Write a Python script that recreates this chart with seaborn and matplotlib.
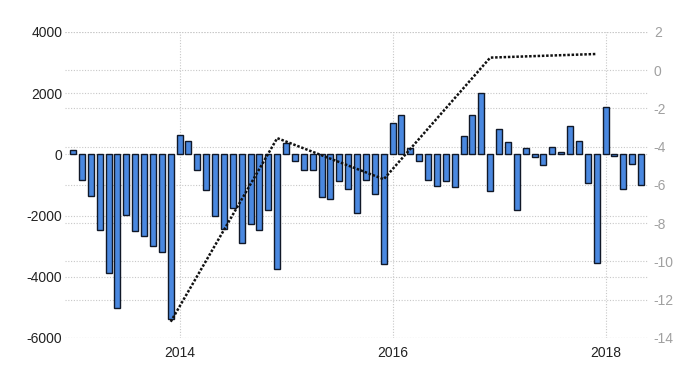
import pandas as pd
import matplotlib
matplotlib.use('Agg')
import matplotlib.pyplot as plt
import matplotlib.transforms as mtransforms
import seaborn as sns

# monthly bars, Jan 2013 - May 2018
months = [d.strftime('%Y-%m') for d in pd.date_range('2013-01-01', periods=65, freq='MS')]
balance = [150, -830, -1370, -2480, -3870, -5010, -1970, -2510, -2680, -2980, -3180, -5390,
           620, 450, -500, -1170, -2000, -2430, -1750, -2890, -2290, -2460, -1830, -3730,
           370, -230, -520, -520, -1400, -1460, -860, -1120, -1920, -830, -1280, -3570,
           1040, 1290, 210, -200, -830, -1040, -870, -1080, 590, 1290, 2000, -1210,
           830, 400, -1830, 210, -100, -360, 240, 80, 930, 450, -950, -3540,
           1540, -40, -1120, -320, -990]

# yearly series on the right axis (December of each year)
annual_months = ['2013-12', '2014-12', '2015-12', '2016-12', '2017-12']
annual_values = [-13.15, -3.55, -5.7, 0.66, 0.85]

year_ticks = ['2014-01', '2016-01', '2018-01']
year_labels = ['2014', '2016', '2018']
left_ticks = [4000, 2000, 0, -2000, -4000, -6000]
right_ticks = [2, 0, -2, -4, -6, -8, -10, -12, -14]

sns.set_style('white')
plt.rcParams['font.family'] = ['Liberation Sans Narrow', 'Liberation Sans', 'DejaVu Sans']

fig = plt.figure(figsize=(7, 3.75), dpi=100)
ax = fig.add_axes([0.093, 0.0987, 0.833, 0.816])
ax2 = ax.twinx()

grid_kw = dict(color='#c8c8c8', linestyle=(0, (1, 1.5)), linewidth=0.8, zorder=0)

df = pd.DataFrame({'month': months, 'balance': balance})
sns.barplot(data=df, x='month', y='balance', order=months, color='#4a88e0', saturation=1,
            edgecolor='#101828', linewidth=1, width=0.68, ax=ax, zorder=3)

xpos = {m: i for i, m in enumerate(months)}
line_x = [xpos[m] for m in annual_months]
sns.lineplot(x=line_x, y=annual_values, ax=ax2, color='#111111', linewidth=1.8,
             linestyle=(0, (1, 0.7)), zorder=5)

ax.set_xlim(-0.9, 64.8)
ax.set_ylim(-6000, 4000)
ax2.set_ylim(-14, 2)

# gridlines (right-axis ones drawn on the bar axes so they stay behind the bars)
for v in left_ticks:
    ax.axhline(v, **grid_kw)
blend = mtransforms.blended_transform_factory(ax.transAxes, ax2.transData)
for v in right_ticks:
    ax.plot([0, 1], [v, v], transform=blend, **grid_kw)
for m in year_ticks:
    ax.axvline(xpos[m], **grid_kw)

ax.set_xticks([xpos[m] for m in year_ticks])
ax.set_xticklabels(year_labels)
ax.set_yticks(left_ticks)
ax.set_yticklabels([str(v) for v in left_ticks])
ax2.set_yticks(right_ticks)
ax2.set_yticklabels([str(v) for v in right_ticks])

ax.tick_params(axis='both', length=0, labelsize=10, labelcolor='#222222')
ax.tick_params(axis='y', pad=2)
ax.tick_params(axis='x', pad=6)
ax2.tick_params(axis='y', length=0, labelsize=10, labelcolor='#a0a0a0', pad=4)
ax.set_xlabel('')
ax.set_ylabel('')
ax2.set_ylabel('')
for a in (ax, ax2):
    for s in a.spines.values():
        s.set_visible(False)

fig.savefig('out.png', dpi=100)
